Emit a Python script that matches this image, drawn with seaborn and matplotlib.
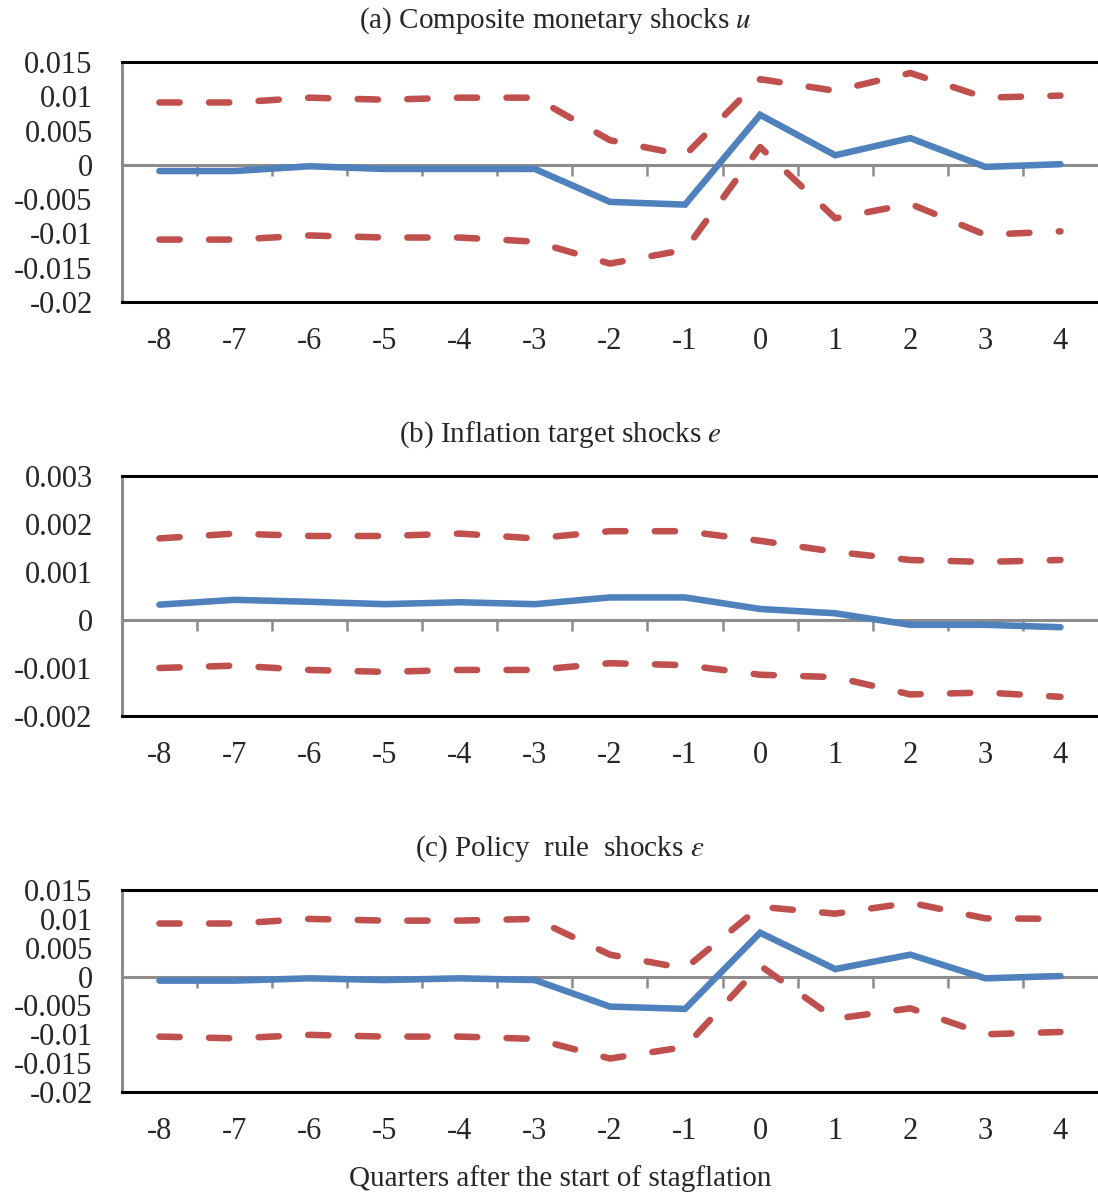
import matplotlib
matplotlib.use("Agg")
import matplotlib.pyplot as plt
import seaborn as sns

# Quarters relative to start of stagflation
quarters = [-8, -7, -6, -5, -4, -3, -2, -1, 0, 1, 2, 3, 4]

# (a) Composite monetary shocks u
u_mean = [-0.0009, -0.0009, -0.0002, -0.0006, -0.0006, -0.0006, -0.0054, -0.0058,
          0.0073, 0.0014, 0.0039, -0.0003, 0.0001]
u_upper = [0.0091, 0.0091, 0.0098, 0.0095, 0.0098, 0.0098, 0.0036, 0.0014,
           0.0125, 0.0108, 0.0134, 0.0098, 0.0101]
u_lower = [-0.0109, -0.0109, -0.0103, -0.0106, -0.0106, -0.0112, -0.0144, -0.0124,
           0.0026, -0.0078, -0.0057, -0.0102, -0.0097]

# (b) Inflation target shocks e
e_mean = [0.00032, 0.00042, 0.00038, 0.00033, 0.00037, 0.00033, 0.00047, 0.00047,
          0.00023, 0.00014, -0.00010, -0.00010, -0.00015]
e_upper = [0.00170, 0.00180, 0.00175, 0.00175, 0.00180, 0.00170, 0.00185, 0.00185,
           0.00165, 0.00142, 0.00125, 0.00121, 0.00125]
e_lower = [-0.00100, -0.00095, -0.00104, -0.00108, -0.00104, -0.00104, -0.00090, -0.00094,
           -0.00114, -0.00119, -0.00155, -0.00151, -0.00160]

# (c) Policy rule shocks epsilon
eps_mean = [-0.0007, -0.0007, -0.0003, -0.0006, -0.0003, -0.0006, -0.0052, -0.0056,
            0.0076, 0.0013, 0.0038, -0.0003, 0.0001]
eps_upper = [0.0092, 0.0092, 0.0100, 0.0097, 0.0097, 0.0100, 0.0038, 0.0014,
             0.0121, 0.0109, 0.0128, 0.0101, 0.0100]
eps_lower = [-0.0104, -0.0107, -0.0101, -0.0104, -0.0104, -0.0108, -0.0142, -0.0122,
             0.0019, -0.0073, -0.0055, -0.0100, -0.0096]

wide_ticks = [0.015, 0.01, 0.005, 0, -0.005, -0.01, -0.015, -0.02]
wide_labels = ["0.015", "0.01", "0.005", "0", "-0.005", "-0.01", "-0.015", "-0.02"]
narrow_ticks = [0.003, 0.002, 0.001, 0, -0.001, -0.002]
narrow_labels = ["0.003", "0.002", "0.001", "0", "-0.001", "-0.002"]

titles = [r"(a) Composite monetary shocks $u$",
          r"(b) Inflation target shocks $e$",
          r"(c) Policy  rule  shocks $\varepsilon$"]

sns.set_style("white")
plt.rcParams['font.family'] = ['Liberation Serif', 'DejaVu Serif']
plt.rcParams['mathtext.fontset'] = 'stix'

blue = '#4F81BD'
red = '#C0504D'
grey = '#8C8C8C'

fig = plt.figure(figsize=(10.98, 11.95), dpi=100)

# axes rectangles in figure fraction (left, bottom, width, height)
rects = [(0.111, 0.7473, 0.889, 0.2008),
         (0.111, 0.4008, 0.889, 0.2009),
         (0.111, 0.0862, 0.889, 0.1690)]
title_y = [0.983, 0.636, 0.290]
title_x = [0.506, 0.510, 0.510]

panels = [(u_mean, u_upper, u_lower, wide_ticks, wide_labels),
          (e_mean, e_upper, e_lower, narrow_ticks, narrow_labels),
          (eps_mean, eps_upper, eps_lower, wide_ticks, wide_labels)]

boundaries = [q + 0.5 for q in quarters[:-1]]

for i, (mean, upper, lower, yt, yl) in enumerate(panels):
    ax = fig.add_axes(rects[i])
    for band in (upper, lower):
        sns.lineplot(x=quarters, y=band, ax=ax, color=red, linewidth=4.7,
                     linestyle=(0, (3.1, 4.5)), dash_capstyle='round')
    sns.lineplot(x=quarters, y=mean, ax=ax, color=blue, linewidth=4.7,
                 solid_capstyle='round', solid_joinstyle='miter')

    ymin, ymax = min(yt), max(yt)
    ax.set_ylim(ymin, ymax)
    ax.set_xlim(-8.5, 4.5)
    ax.set_yticks(yt)
    ax.set_yticklabels(yl)
    ax.set_xticks(quarters)
    ax.set_xticklabels([str(q) for q in quarters])
    ax.tick_params(axis='x', length=0, pad=18, labelsize=22)
    ax.tick_params(axis='y', direction='in', length=7, width=1.8, color=grey,
                   pad=21, labelsize=22)
    ax.set_xlabel("")
    ax.set_ylabel("")

    for side in ('top', 'bottom'):
        ax.spines[side].set_color('black')
        ax.spines[side].set_linewidth(2.2)
    ax.spines['left'].set_color(grey)
    ax.spines['left'].set_linewidth(2.2)
    ax.spines['right'].set_visible(False)

    # zero line with category-boundary tick marks
    zero_frac = (0 - ymin) / (ymax - ymin)
    sec = ax.secondary_xaxis(zero_frac)
    sec.set_alignment('bottom')
    sec.spines['bottom'].set_color(grey)
    sec.spines['bottom'].set_linewidth(2.2)
    sec.set_xticks(boundaries)
    sec.set_xticklabels([])
    sec.tick_params(axis='x', direction='out', length=8, width=1.8, color=grey)

    fig.text(title_x[i], title_y[i], titles[i], ha='center', va='center', fontsize=21)

fig.text(0.510, 0.014, "Quarters after the start of stagflation",
         ha='center', va='center', fontsize=21)

fig.savefig("out.png", dpi=100)
